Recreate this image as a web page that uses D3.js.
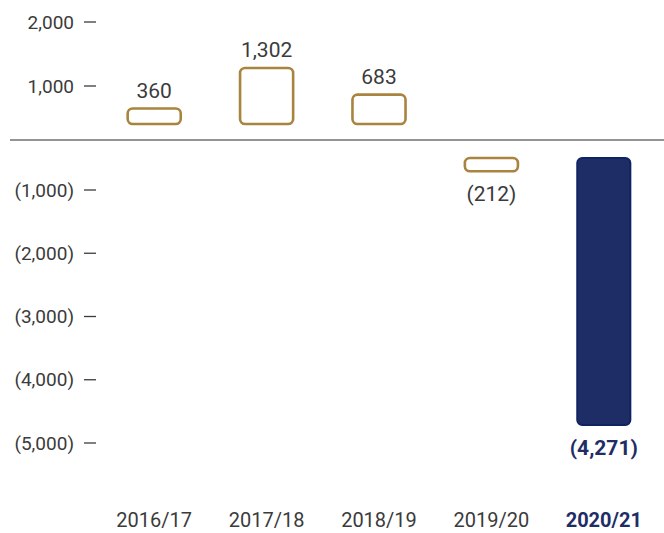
<!DOCTYPE html>
<html>
<head>
<meta charset="utf-8">
<script src="https://cdn.jsdelivr.net/npm/d3@7"></script>
<style>
  body { margin: 0; background: #fff; }
  svg { display: block; font-family: Roboto, "Noto Sans", sans-serif; }
</style>
</head>
<body>
<div id="chart"></div>
<script>
// donnees
var years = ["2016/17", "2017/18", "2018/19", "2019/20", "2020/21"];
var values = [360, 1302, 683, -212, -4271];
var posTicks = [2000, 1000];
var negTicks = [-1000, -2000, -3000, -4000, -5000];

var width = 664, height = 533;
var gold = "#a8843f", navy = "#1f2d66", navyDark = "#0f2262", grey = "#3b3b3b";

var svg = d3.select("#chart").append("svg")
  .attr("width", width)
  .attr("height", height);

var data = years.map(function(y, i) { return { year: y, value: values[i], last: i == years.length - 1 }; });

var x = d3.scaleBand().domain(years).range([98, 660]).paddingInner(0.51).paddingOuter(0.255);

// echelles de l'axe (graduations)
var yTickPos = d3.scaleLinear().domain([0, 2000]).range([150, 22]);
var yTickNeg = d3.scaleLinear().domain([-1000, -5000]).range([190, 443]);
// echelles des barres
var yPos = d3.scaleLinear().domain([0, 1302]).range([124, 68]);
var yNeg = d3.scaleLinear().domain([0, -4271]).range([158, 425]);

var fmt = d3.format(",");
function label(v) { return v < 0 ? "(" + fmt(-v) + ")" : fmt(v); }

// graduations
var ticks = posTicks.map(function(t) { return { v: t, y: yTickPos(t) }; })
  .concat(negTicks.map(function(t) { return { v: t, y: yTickNeg(t) }; }));

var tg = svg.selectAll(".tick").data(ticks).enter().append("g")
  .attr("class", "tick")
  .attr("transform", function(d) { return "translate(0," + d.y + ")"; });
tg.append("text")
  .attr("x", 74)
  .attr("dy", "0.35em")
  .attr("text-anchor", "end")
  .attr("fill", grey)
  .style("font-size", "19px")
  .text(function(d) { return label(d.v); });
tg.append("line")
  .attr("x1", 84).attr("x2", 96)
  .attr("stroke", grey).attr("stroke-width", 1.3);

// ligne zero
svg.append("line")
  .attr("x1", 10).attr("x2", width)
  .attr("y1", 140).attr("y2", 140)
  .attr("stroke", "#707070").attr("stroke-width", 1.6);

// barres
svg.selectAll(".bar").data(data).enter().append("rect")
  .attr("class", "bar")
  .attr("x", function(d) { return x(d.year) + 1; })
  .attr("width", x.bandwidth() - 2)
  .attr("y", function(d) { return d.value >= 0 ? yPos(d.value) : yNeg(0); })
  .attr("height", function(d) { return d.value >= 0 ? yPos(0) - yPos(d.value) : yNeg(d.value) - yNeg(0); })
  .attr("rx", 5)
  .attr("fill", function(d) { return d.last ? navy : "#fff"; })
  .attr("stroke", function(d) { return d.last ? navyDark : gold; })
  .attr("stroke-width", function(d) { return d.last ? 2 : 2.6; });

// valeurs
svg.selectAll(".val").data(data).enter().append("text")
  .attr("class", "val")
  .attr("x", function(d) { return x(d.year) + x.bandwidth() / 2; })
  .attr("y", function(d) { return d.value >= 0 ? yPos(d.value) - 11 : yNeg(d.value) + 30; })
  .attr("text-anchor", "middle")
  .attr("fill", function(d) { return d.last ? navy : grey; })
  .attr("font-weight", function(d) { return d.last ? "bold" : "normal"; })
  .style("font-size", "21px")
  .text(function(d) { return label(d.value); });

// categories
svg.selectAll(".cat").data(data).enter().append("text")
  .attr("class", "cat")
  .attr("x", function(d) { return x(d.year) + x.bandwidth() / 2; })
  .attr("y", 527)
  .attr("text-anchor", "middle")
  .attr("fill", function(d) { return d.last ? navy : grey; })
  .attr("font-weight", function(d) { return d.last ? "bold" : "normal"; })
  .style("font-size", "20px")
  .text(function(d) { return d.year; });
</script>
</body>
</html>
